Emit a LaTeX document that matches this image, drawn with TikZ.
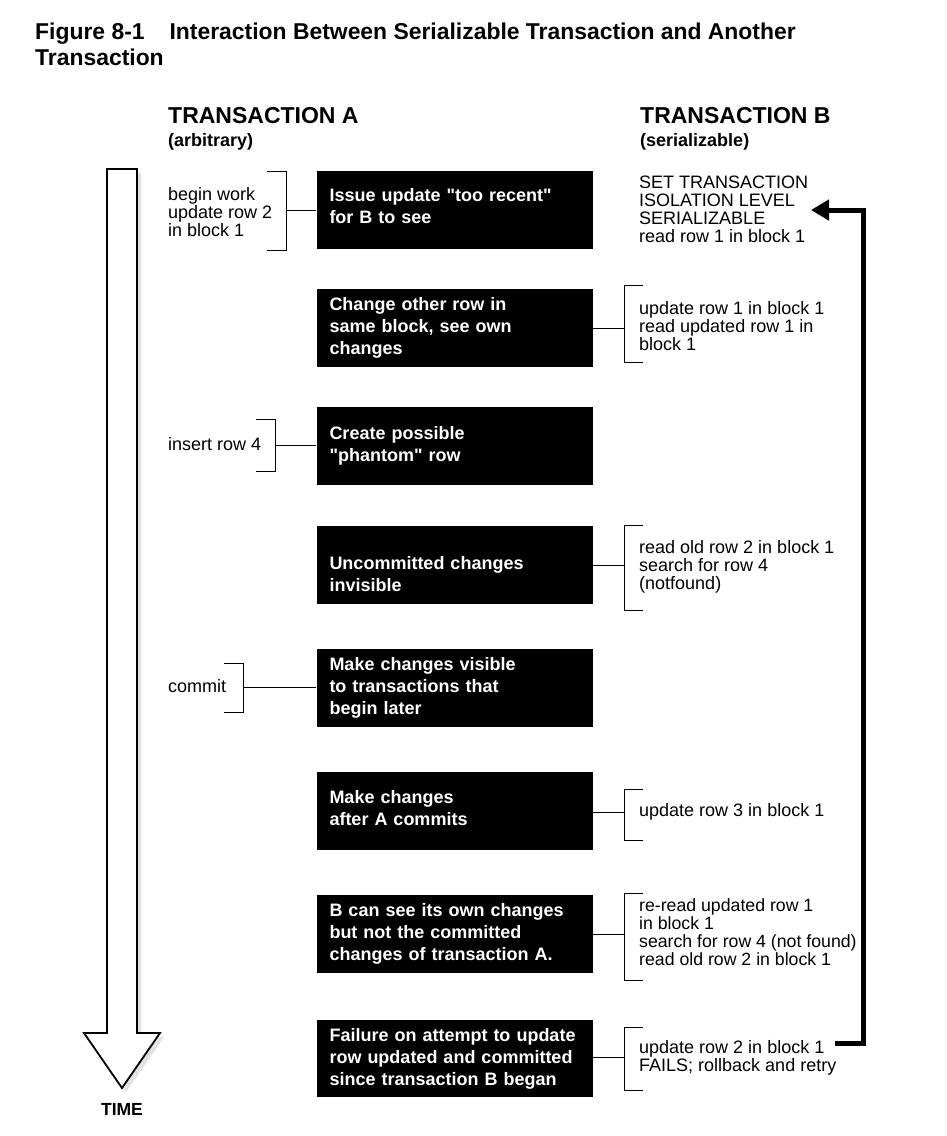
\documentclass[tikz,border=0pt]{standalone}
\usepackage{fontspec}
\setmainfont{Liberation Sans}
\usepackage{tikz}
\usetikzlibrary{arrows.meta}
\definecolor{shadowgray}{RGB}{226,226,226}

\begin{document}
\begin{tikzpicture}[x=1pt,y=-1pt,
  stepbox/.style={fill=black,text=white,font=\bfseries\fontsize{18}{22}\selectfont,
    minimum width=276pt,minimum height=77.5pt,text width=250pt,align=left,
    inner xsep=13pt,inner ysep=0pt},
  notetext/.style={font=\fontsize{18}{18}\selectfont,align=left,inner sep=0pt},
  headtext/.style={font=\bfseries\fontsize{23}{26}\selectfont,anchor=base west,inner sep=0pt},
  subtext/.style={font=\bfseries\fontsize{18}{20}\selectfont,anchor=base west,inner sep=0pt},
  link/.style={line width=1pt}]
\useasboundingbox (0,0) rectangle (946,1136);

% title
\node[anchor=base west,inner sep=0pt,font=\bfseries\fontsize{22.9}{26}\selectfont] (title) at (35,39)
  {Figure 8-1\hspace{25pt}Interaction Between Serializable Transaction and Another};
\node[anchor=base west,inner sep=0pt,font=\bfseries\fontsize{22.9}{26}\selectfont] (title2) at (35,65) {Transaction};

% column heads
\node[headtext] (headA) at (168,123) {TRANSACTION A};
\node[subtext] (subA) at (168,146) {(arbitrary)};
\node[headtext] (headB) at (640,123) {TRANSACTION B};
\node[subtext] (subB) at (640,146) {(serializable)};

% time arrow
\fill[shadowgray,shift={(4,4)}] (107,169) -- (137,169) -- (137,1033) -- (160,1033) -- (122,1088) -- (84,1033) -- (107,1033) -- cycle;
\draw[line width=1.8pt,fill=white] (107,169) -- (137,169) -- (137,1033) -- (160,1033) -- (122,1088) -- (84,1033) -- (107,1033) -- cycle;
\node[anchor=base,inner sep=0pt,font=\bfseries\fontsize{17.5}{20}\selectfont] (time) at (122,1115) {TIME};

% black boxes
\node[stepbox] (issue) at (454.5,210) {Issue update \textquotedbl too recent\textquotedbl\\for B to see\rule[-8pt]{0pt}{8pt}};
\node[stepbox] (change) at (454.5,328) {Change other row in\\same block, see own\\changes};
\node[stepbox] (phantom) at (454.5,446) {Create possible\\\textquotedbl phantom\textquotedbl{} row};
\node[stepbox] (invisible) at (454.5,565) {\rule{0pt}{31pt}Uncommitted changes\\invisible};
\node[stepbox] (visible) at (454.5,688) {Make changes visible\\to transactions that\\begin later};
\node[stepbox] (after) at (454.5,811) {Make changes\\after A commits\rule[-6pt]{0pt}{6pt}};
\node[stepbox] (ownchg) at (454.5,934) {B can see its own changes\\but not the committed\\changes of transaction A.};
\node[stepbox] (failure) at (454.5,1058.5) {Failure on attempt to update\\row updated and committed\\since transaction B began};

% transaction A notes
\node[notetext,anchor=north west] (beginwork) at (168,187.5) {begin work\\update row 2\\in block 1};
\node[notetext,anchor=base west] (insert) at (168,450) {insert row 4};
\node[notetext,anchor=base west] (commit) at (168,692) {commit};

\draw[link] (267,171.7) -- (286.7,171.7) -- (286.7,250) -- (267,250);
\coordinate (brkA1) at (286.7,210);
\draw[link] (brkA1) -- (brkA1 -| issue.west);
\draw[link] (256,419.3) -- (275.7,419.3) -- (275.7,471) -- (256,471);
\coordinate (brkA2) at (275.7,445);
\draw[link] (brkA2) -- (brkA2 -| phantom.west);
\draw[link] (224,663.3) -- (243.3,663.3) -- (243.3,712.3) -- (224,712.3);
\coordinate (brkA3) at (243.3,687.3);
\draw[link] (brkA3) -- (brkA3 -| visible.west);

% transaction B notes
\node[notetext,anchor=north west] (setiso) at (639,176) {SET TRANSACTION\\ISOLATION LEVEL\\SERIALIZABLE\\read row 1 in block 1};
\node[notetext,anchor=north west] (upd1) at (639,301) {update row 1 in block 1\\read updated row 1 in\\block 1};
\node[notetext,anchor=north west] (readold) at (639,540.3) {read old row 2 in block 1\\search for row 4\\(notfound)};
\node[notetext,anchor=base west] (upd3) at (639,816.7) {update row 3 in block 1};
\node[notetext,anchor=north west,font=\fontsize{17.7}{18}\selectfont] (reread) at (639,898.5) {re-read updated row 1\\in block 1\\search for row 4 (not found)\\read old row 2 in block 1};
\node[notetext,anchor=north west] (fails) at (639,1040.3) {update row 2 in block 1\\FAILS; rollback and retry};

\draw[link] (643,285) -- (624.5,285) -- (624.5,362) -- (643,362);
\coordinate (brkB2) at (624.5,328);
\draw[link] (brkB2) -- (brkB2 -| change.east);
\draw[link] (643,525) -- (624.5,525) -- (624.5,610) -- (643,610);
\coordinate (brkB4) at (624.5,565);
\draw[link] (brkB4) -- (brkB4 -| invisible.east);
\draw[link] (643,789) -- (624.5,789) -- (624.5,840) -- (643,840);
\coordinate (brkB6) at (624.5,812);
\draw[link] (brkB6) -- (brkB6 -| after.east);
\draw[link] (643,893.3) -- (624.5,893.3) -- (624.5,980) -- (643,980);
\coordinate (brkB7) at (624.5,934);
\draw[link] (brkB7) -- (brkB7 -| ownchg.east);
\draw[link] (643,1027.3) -- (624.5,1027.3) -- (624.5,1090.7) -- (643,1090.7);
\coordinate (brkB8) at (624.5,1057.3);
\draw[link] (brkB8) -- (brkB8 -| failure.east);

% retry arrow
\coordinate (retryfrom) at (835,1043.3);
\coordinate (retryto) at (811,210);
\draw[line width=5pt,-{Triangle[length=18pt,width=20pt]}] (retryfrom) -- ++(28,0) |- (retryto);
\end{tikzpicture}
\end{document}
